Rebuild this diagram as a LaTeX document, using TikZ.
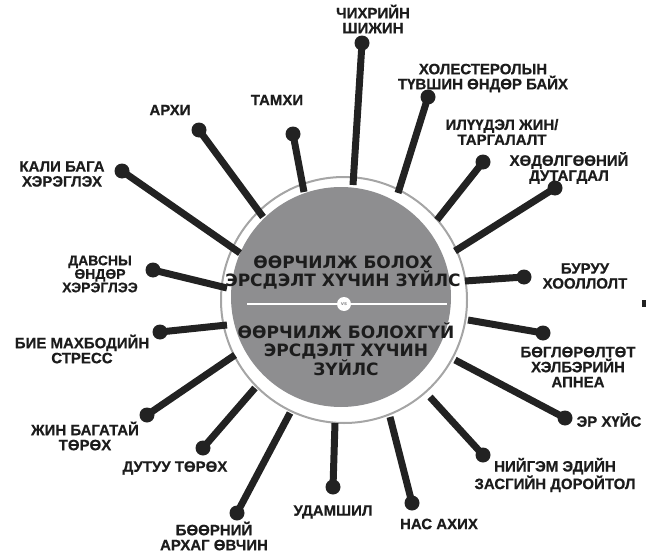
\documentclass[tikz,border=0pt]{standalone}
\usepackage{fontspec}
\setmainfont{Liberation Sans}
\newfontfamily\lblfont[FakeBold=0.5]{Liberation Sans Bold}
\newfontfamily\ctrfont{DejaVu Sans Bold}
\definecolor{circfill}{RGB}{142,142,144}
\definecolor{ringc}{RGB}{165,165,165}
\definecolor{spokec}{RGB}{34,34,34}
\definecolor{textc}{RGB}{28,28,28}
\tikzset{
  lbl/.style={font=\lblfont\fontsize{15}{15}\selectfont, align=center, text=textc, inner sep=0pt},
  ctr/.style={font=\ctrfont\fontsize{17}{17.5}\selectfont, align=center, text=textc, inner sep=0pt},
  dotn/.style={circle, fill=spokec, minimum size=15pt, inner sep=0pt},
  spoke/.style={draw=spokec, line width=7pt}
}
\begin{document}
\begin{tikzpicture}[x=1pt,y=-1pt]
\useasboundingbox (0,0) rectangle (646,554);
% central circle and ring
\node[circle, fill=circfill, minimum size=220pt, inner sep=0pt] (core) at (341,297) {};
\node[circle, draw=ringc, line width=2pt, minimum size=246pt, inner sep=0pt] (ring) at (344,300) {};
% divider
\coordinate (dl) at (247,304);
\coordinate (dr) at (447,304);
\draw[white, line width=1.3pt] (dl) -- (dr);
\node[circle, fill=white, minimum size=14pt, inner sep=0pt, font=\ctrfont\fontsize{5}{5}\selectfont, text=circfill] (vs) at (344,304) {vs};
\node[ctr] (top) at (343,272.5) {ӨӨРЧИЛЖ БОЛОХ\\ЭРСДЭЛТ ХҮЧИН ЗҮЙЛС};
\node[ctr, font=\ctrfont\fontsize{17}{18}\selectfont] (bot) at (346,349) {ӨӨРЧИЛЖ БОЛОХГҮЙ\\ЭРСДЭЛТ ХҮЧИН\\ЗҮЙЛС};
% spokes: inner coordinate, dot, label
\foreach \n/\ix/\iy/\dx/\dy in {
 1/353/185/362/43,
 2/398/193/428/97,
 3/437/220/483/162,
 4/455/251/555/188,
 5/465/281/524/277,
 6/468/320/543/333,
 7/455/360/565/418,
 8/430/397/483/455,
 9/390/417/412/503,
 10/335/423/333/487,
 11/290/413/237/513,
 12/255/388/203/448,
 13/235/355/147/415,
 14/227/325/160/332,
 15/227/288/153/270,
 16/240/253/122/171,
 17/263/217/199/130,
 18/304/192/293/134}{
  \coordinate (i\n) at (\ix,\iy);
  \node[dotn] (d\n) at (\dx,\dy) {};
  \draw[spoke] (i\n) -- (d\n.center);
}
\node[lbl] (l1) at (373,19) {ЧИХРИЙН\\ШИЖИН};
\node[lbl] (l2) at (483,78) {ХОЛЕСТЕРОЛЫН\\ТҮВШИН ӨНДӨР БАЙХ};
\node[lbl] (l3) at (502,132) {ИЛҮҮДЭЛ ЖИН/\\ТАРГАЛАЛТ};
\node[lbl] (l4) at (569,168) {ХӨДӨЛГӨӨНИЙ\\ДУТАГДАЛ};
\node[lbl] (l5) at (585,276) {БУРУУ\\ХООЛЛОЛТ};
\node[lbl] (l6) at (578,367) {БӨГЛӨРӨЛТӨТ\\ХЭЛБЭРИЙН\\АПНЕА};
\node[lbl] (l7) at (609,420) {ЭР ХҮЙС};
\node[lbl] (l8) at (555,475) {НИЙГЭМ ЭДИЙН\\ЗАСГИЙН ДОРОЙТОЛ};
\node[lbl] (l9) at (439,524) {НАС АХИХ};
\node[lbl] (l10) at (333,512) {УДАМШИЛ};
\node[lbl] (l11) at (214,536) {БӨӨРНИЙ\\АРХАГ ӨВЧИН};
\node[lbl] (l12) at (175,468) {ДУТУУ ТӨРӨХ};
\node[lbl] (l13) at (85,436) {ЖИН БАГАТАЙ\\ТӨРӨХ};
\node[lbl] (l14) at (82,349) {БИЕ МАХБОДИЙН\\СТРЕСС};
\node[lbl, font=\lblfont\fontsize{14}{13.5}\selectfont] (l15) at (100,274) {ДАВСНЫ\\ӨНДӨР\\ХЭРЭГЛЭЭ};
\node[lbl] (l16) at (62,174) {КАЛИ БАГА\\ХЭРЭГЛЭХ};
\node[lbl] (l17) at (170,110) {АРХИ};
\node[lbl] (l18) at (277,100) {ТАМХИ};
% small mark at right edge
\fill[spokec] (642,300) rectangle (646,307);
\end{tikzpicture}
\end{document}
